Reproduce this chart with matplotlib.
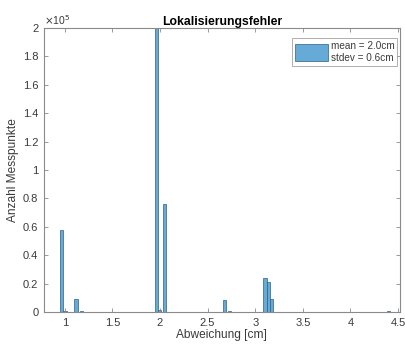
import matplotlib
matplotlib.use("Agg")
import matplotlib.pyplot as plt
from matplotlib.ticker import FixedLocator, FuncFormatter

plt.rcParams['font.family'] = ['Liberation Sans', 'DejaVu Sans']

# Data
bin_centers = [0.967, 1.002, 1.117, 1.174, 1.962, 1.997, 2.046, 2.68, 2.73, 2.96, 3.102, 3.14, 3.172, 4.40]
counts = [58000, 1000, 9000, 800, 200000, 1500, 76000, 8500, 500, 300, 24000, 21000, 9000, 500]
bin_width = 0.035
x_ticks = [1, 1.5, 2, 2.5, 3, 3.5, 4, 4.5]
y_ticks = [0, 20000, 40000, 60000, 80000, 100000, 120000, 140000, 160000, 180000, 200000]
legend_label = "mean = 2.0cm\nstdev = 0.6cm"

fig = plt.figure(figsize=(4.06, 3.47), dpi=100)
ax = fig.add_axes([0.108, 0.101, 0.877, 0.818])

ax.bar(bin_centers, counts, width=bin_width, color='#66AAD7',
       edgecolor='#2F5F86', linewidth=0.5, label=legend_label)

ax.set_xlim(0.78, 4.52)
ax.set_ylim(0, 200000)
ax.xaxis.set_major_locator(FixedLocator(x_ticks))
ax.yaxis.set_major_locator(FixedLocator(y_ticks))
ax.xaxis.set_major_formatter(FuncFormatter(lambda v, p: f"{v:g}"))
ax.yaxis.set_major_formatter(FuncFormatter(lambda v, p: f"{v/1e5:g}"))

axis_gray = '#8a8a8a'
text_col = '#3a3a3a'
for s in ax.spines.values():
    s.set_color(axis_gray)
    s.set_linewidth(0.8)
ax.tick_params(direction='in', length=3, width=0.6, color=axis_gray,
               labelcolor=text_col, labelsize=8, top=True, right=True, pad=4)

ax.text(0.0, 1.003, r"$\times$10$^5$", transform=ax.transAxes, fontsize=7.5,
        color=text_col, ha='left', va='bottom')

ax.set_title("Lokalisierungsfehler", fontsize=8.8, fontweight='bold', color='black', pad=2)
ax.set_xlabel("Abweichung [cm]", fontsize=8.6, color=text_col, labelpad=1)
ax.set_ylabel("Anzahl Messpunkte", fontsize=8.6, color=text_col, labelpad=3)

leg = ax.legend(loc='upper right', fontsize=7.2, handlelength=3.3, handleheight=2.2,
                fancybox=False, borderpad=0.3, handletextpad=0.3, borderaxespad=0.0,
                bbox_to_anchor=(0.993, 0.965))
leg.get_frame().set_edgecolor(axis_gray)
leg.get_frame().set_linewidth(0.6)
for t in leg.get_texts():
    t.set_color(text_col)

fig.savefig("out.png", dpi=100)
